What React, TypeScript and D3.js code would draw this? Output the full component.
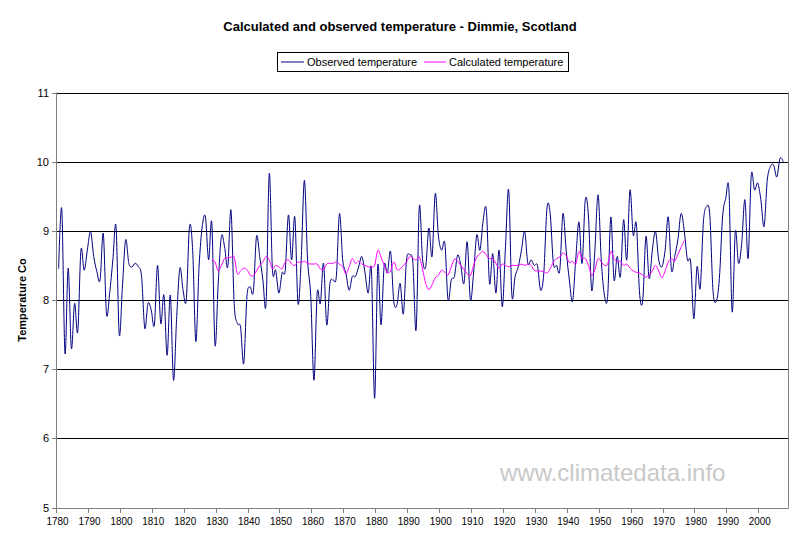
import React from "react";
import * as d3 from "d3";

const axisYears: number[] = d3.range(1780, 2009);
const tickYears: number[] = d3.range(1780, 2001, 10);
const yTicks: number[] = [5, 6, 7, 8, 9, 10, 11];

const observedStart = 1780;
const observed: number[] = [
  8.45, 9.31, 7.23, 8.46, 7.3, 7.95, 7.54, 8.72, 8.43, 8.72,
  8.99, 8.63, 8.41, 8.29, 8.96, 7.8, 8.1, 8.58, 9.06, 7.5,
  8.2, 8.87, 8.53, 8.48, 8.53, 8.48, 8.34, 7.59, 7.95, 7.86,
  7.64, 8.5, 7.66, 8.07, 7.2, 8.07, 6.84, 7.76, 8.46, 8.14,
  8.0, 9.06, 8.72, 7.4, 8.48, 9.06, 9.2, 8.58, 9.11, 7.35,
  8.24, 8.92, 8.77, 8.48, 9.3, 7.95, 7.66, 7.61, 7.08, 8.05,
  8.19, 8.12, 8.92, 8.63, 8.29, 7.95, 9.83, 8.43, 8.43, 8.1,
  8.39, 8.43, 9.23, 8.58, 9.2, 7.95, 8.58, 9.73, 8.58, 8.05,
  6.84, 8.1, 7.95, 8.53, 7.64, 8.24, 8.29, 8.34, 9.25, 8.58,
  8.39, 8.14, 8.34, 8.34, 8.48, 8.63, 8.39, 8.1, 8.43, 6.58,
  8.5, 7.64, 8.5, 8.39, 8.7, 7.98, 7.93, 8.24, 7.8, 8.58,
  8.65, 8.53, 7.57, 9.35, 8.6, 8.48, 9.04, 8.63, 9.54, 8.92,
  8.72, 8.82, 8.0, 8.29, 8.34, 8.65, 8.5, 8.24, 8.84, 8.0,
  8.39, 8.94, 8.72, 9.15, 9.3, 8.24, 8.67, 8.1, 8.72, 7.9,
  8.77, 9.59, 8.07, 8.34, 8.48, 8.72, 8.99, 8.53, 8.58, 8.5,
  8.5, 8.14, 8.39, 9.33, 9.25, 8.53, 8.5, 8.43, 9.25, 8.72,
  8.29, 7.98, 8.58, 9.13, 8.53, 9.45, 9.2, 8.14, 8.72, 9.52,
  8.58, 8.07, 8.05, 9.2, 8.29, 8.63, 8.34, 9.16, 8.58, 9.59,
  8.94, 9.1, 8.1, 8.0, 8.92, 8.31, 8.72, 8.99, 8.58, 8.48,
  8.72, 9.2, 8.43, 8.63, 8.87, 9.25, 9.0, 8.58, 8.55, 7.73,
  8.48, 8.17, 9.13, 9.35, 9.23, 8.14, 7.98, 8.31, 9.2, 9.47,
  9.59, 7.83, 8.99, 8.53, 8.82, 9.45, 8.6, 9.81, 9.59, 9.69,
  9.45, 9.06, 9.73, 9.93, 9.95, 9.78, 10.05, 10.0,
];

const calculatedStart = 1828;
const calculated: number[] = [
  8.58, 8.55, 8.42, 8.5, 8.6, 8.61, 8.62, 8.62, 8.38, 8.42, 8.46, 8.44,
  8.36, 8.35, 8.42, 8.5, 8.55, 8.63, 8.58, 8.45, 8.5, 8.48,
  8.45, 8.55, 8.58, 8.52, 8.5, 8.55, 8.54, 8.56, 8.53, 8.52,
  8.52, 8.52, 8.45, 8.44, 8.52, 8.53, 8.53, 8.55, 8.52, 8.48,
  8.38, 8.48, 8.6, 8.53, 8.56, 8.52, 8.5, 8.48, 8.48, 8.5,
  8.72, 8.62, 8.5, 8.4, 8.42, 8.55, 8.44, 8.45, 8.5, 8.55,
  8.63, 8.6, 8.58, 8.62, 8.45, 8.24, 8.15, 8.22, 8.32, 8.36,
  8.43, 8.4, 8.36, 8.48, 8.59, 8.56, 8.5, 8.44, 8.38, 8.35,
  8.5, 8.62, 8.67, 8.7, 8.65, 8.6, 8.6, 8.53, 8.46, 8.52,
  8.5, 8.48, 8.5, 8.5, 8.5, 8.52, 8.5, 8.52, 8.5, 8.43,
  8.42, 8.42, 8.41, 8.39, 8.45, 8.55, 8.6, 8.62, 8.68, 8.64,
  8.54, 8.56, 8.52, 8.7, 8.6, 8.6, 8.5, 8.36, 8.44, 8.6,
  8.55, 8.5, 8.52, 8.7, 8.6, 8.55, 8.56, 8.5, 8.52, 8.46,
  8.42, 8.4, 8.39, 8.36, 8.33, 8.36, 8.42, 8.5, 8.42, 8.32,
  8.42, 8.55, 8.6, 8.56, 8.66, 8.76, 8.86,
];

const seriesNames = ["Observed temperature", "Calculated temperature"];
const seriesColors = ["#000080", "#FF00FF"];

const W = 800;
const H = 546;
const left = 57;
const right = 788;
const top = 92.5;
const bottom = 507.5;
const font = "'Liberation Sans', Arial, sans-serif";

export default function App() {
  const x = d3.scaleBand<number>().domain(axisYears).range([left, right]).padding(0);
  const cx = (yr: number) => (x(yr) as number) + x.bandwidth() / 2;
  const y = d3.scaleLinear().domain([5, 11]).range([bottom, top]);

  const obsData = observed.map((v, i) => ({ yr: observedStart + i, v }));
  const calcData = calculated.map((v, i) => ({ yr: calculatedStart + i, v }));
  const line = d3
    .line<{ yr: number; v: number }>()
    .x((d) => cx(d.yr))
    .y((d) => y(d.v))
    .curve(d3.curveCardinal.tension(0));

  return (
    <svg width={W} height={H} style={{ display: "block", position: "absolute", left: 0, top: 0, background: "#fff" }}>
      <rect x={0} y={0} width={W} height={H} fill="#fff" />
      <text x={400} y={31} textAnchor="middle" fontFamily={font} fontWeight="bold" fontSize={13} fill="#000">
        Calculated and observed temperature - Dimmie, Scotland
      </text>

      {/* legend */}
      <g>
        <rect x={277.5} y={52.5} width={291} height={19} fill="#fff" stroke="#000" strokeWidth={1} />
        <line x1={281} x2={304} y1={62} y2={62} stroke={seriesColors[0]} strokeWidth={1} />
        <text x={307} y={66} fontFamily={font} fontSize={11} fill="#000">{seriesNames[0]}</text>
        <line x1={424} x2={446} y1={62} y2={62} stroke={seriesColors[1]} strokeWidth={1} />
        <text x={449} y={66} fontFamily={font} fontSize={11} fill="#000">{seriesNames[1]}</text>
      </g>

      {/* gridlines */}
      {yTicks.filter((t) => t > 5).map((t) => (
        <line key={"g" + t} x1={left} x2={right} y1={Math.round(y(t)) + 0.5} y2={Math.round(y(t)) + 0.5} stroke="#000" strokeWidth={1} />
      ))}

      {/* right border */}
      <line x1={right + 0.5} x2={right + 0.5} y1={top} y2={bottom} stroke="#808080" strokeWidth={1} />

      {/* axes */}
      <line x1={left - 0.5} x2={left - 0.5} y1={top} y2={Math.round(bottom) + 0.5} stroke="#808080" strokeWidth={1} />
      <line x1={left} x2={right + 1} y1={Math.round(bottom) + 0.5} y2={Math.round(bottom) + 0.5} stroke="#808080" strokeWidth={1} />

      {yTicks.map((t) => (
        <g key={"yt" + t}>
          <line x1={left - 5} x2={left} y1={Math.round(y(t)) + 0.5} y2={Math.round(y(t)) + 0.5} stroke="#808080" />
          <text x={left - 8} y={y(t) + 4} textAnchor="end" fontFamily={font} fontSize={11} fill="#000">{t}</text>
        </g>
      ))}

      {tickYears.map((yr) => (
        <g key={"xt" + yr}>
          <line x1={Math.round(x(yr) as number) - 0.5} x2={Math.round(x(yr) as number) - 0.5} y1={Math.round(bottom)} y2={Math.round(bottom) + 5} stroke="#808080" />
          <text x={cx(yr) - 1} y={525} textAnchor="middle" fontFamily={font} fontSize={11} textLength={22} lengthAdjust="spacingAndGlyphs" fill="#000">{yr}</text>
        </g>
      ))}

      <text transform={`translate(26,300) rotate(-90)`} textAnchor="middle" fontFamily={font} fontWeight="bold" fontSize={11} fill="#000">
        Temperature Co
      </text>

      {/* watermark */}
      <text x={500} y={481} fontFamily={font} fontSize={24} fill="#c8c8c8">www.climatedata.info</text>

      <path d={line(obsData) || ""} fill="none" stroke={seriesColors[0]} strokeWidth={1} />
      <path d={line(calcData) || ""} fill="none" stroke={seriesColors[1]} strokeWidth={1} />
    </svg>
  );
}
